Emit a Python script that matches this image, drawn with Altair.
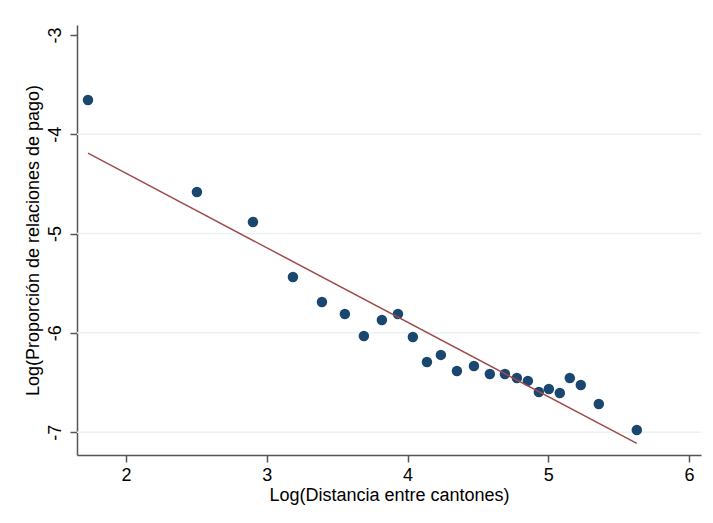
import altair as alt
import pandas as pd

log_dist = [1.730, 2.504, 2.902, 3.186, 3.392, 3.555, 3.690, 3.818, 3.932, 4.038,
            4.138, 4.237, 4.351, 4.472, 4.585, 4.692, 4.777, 4.855, 4.933, 5.004,
            5.082, 5.153, 5.231, 5.359, 5.629]
log_prop = [-3.655, -4.581, -4.883, -5.437, -5.689, -5.810, -6.031, -5.870, -5.810, -6.041,
            -6.293, -6.222, -6.384, -6.333, -6.414, -6.414, -6.454, -6.484, -6.595, -6.565,
            -6.605, -6.454, -6.525, -6.716, -6.978]
grid_vals = [-4, -5, -6, -7]
x_ticks = [2, 3, 4, 5, 6]
y_ticks = [-3, -4, -5, -6, -7]

df = pd.DataFrame({"x": log_dist, "y": log_prop})
gdf = pd.DataFrame({"g": grid_vals})

FONT = "Liberation Sans"
xs = alt.Scale(domain=[1.652, 6.085], nice=False, zero=False)
ys = alt.Scale(domain=[-7.23, -2.9], nice=False, zero=False)

grid = alt.Chart(gdf).mark_rule(color="#eaf2f3", strokeWidth=1.5).encode(
    y=alt.Y("g:Q", scale=ys)
)

pts = alt.Chart(df).mark_circle(size=110, color="#1a476f", opacity=1).encode(
    x=alt.X("x:Q", scale=xs,
            axis=alt.Axis(values=x_ticks, title="Log(Distancia entre cantones)", grid=False,
                          labelExpr="datum.value + ''")),
    y=alt.Y("y:Q", scale=ys,
            axis=alt.Axis(values=y_ticks, title="Log(Proporción de relaciones de pago)",
                          grid=False, labelAngle=270, labelAlign="center",
                          labelBaseline="bottom", labelExpr="datum.value + ''")),
)

fit = alt.Chart(df).transform_regression("x", "y").mark_line(
    color="#a04a4c", strokeWidth=1.5
).encode(x=alt.X("x:Q", scale=xs), y=alt.Y("y:Q", scale=ys))

chart = alt.layer(grid, pts, fit).properties(
    width=624, height=430,
    autosize=alt.AutoSizeParams(type="none"),
    padding={"left": 69, "top": 17, "right": 4, "bottom": 60},
).configure_view(stroke=None).configure_axis(
    labelFont=FONT, titleFont=FONT, labelFontSize=18, titleFontSize=18,
    labelColor="#000000", titleColor="#000000", titleFontWeight="normal",
    domainColor="#555555", tickColor="#555555", domainWidth=1.5, tickWidth=1.5,
    tickSize=7, labelPadding=4,
).configure_axisX(titlePadding=2).configure_axisY(titlePadding=4, labelPadding=6)

chart.save("out.html", embed_options={"renderer": "svg", "actions": False})
